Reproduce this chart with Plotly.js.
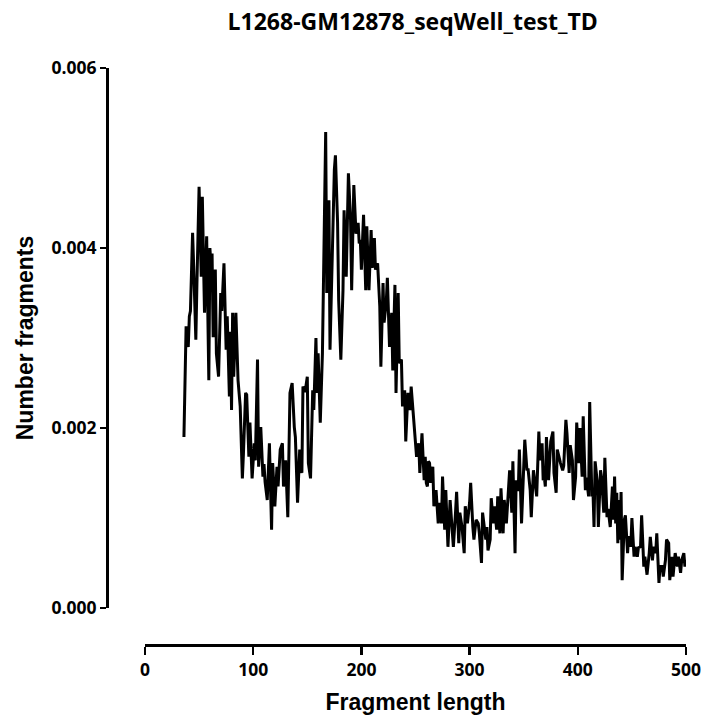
<!DOCTYPE html>
<html>
<head>
<meta charset="utf-8">
<script src="https://cdn.plot.ly/plotly-3.0.1.min.js"></script>
<style>html,body{margin:0;padding:0;background:#fff;}#chart{width:706px;height:718px;}</style>
</head>
<body>
<div id="chart"></div>
<script>
const chartTitle = "L1268-GM12878_seqWell_test_TD";
const xTitle = "Fragment length";
const yTitle = "Number fragments";
const xTicks = [0, 100, 200, 300, 400, 500];
const yTicks = [0.000, 0.002, 0.004, 0.006];

const fragmentLength = [
36,38,40,41,42,44,45,47,48,50,52,53,55,56,57,59,60,61,62,63,65,66,68,70,71,73,75,76,78,79,
80,81,82,84,86,88,90,91,92,93,94,96,97,99,101,102,104,105,107,109,110,111,113,115,117,118,120,122,123,125,
127,128,130,132,134,136,138,139,141,143,145,146,148,150,151,153,155,156,158,159,160,162,164,165,167,168,170,171,173,175,
176,178,179,181,183,184,186,188,190,191,193,195,197,198,199,200,202,204,205,207,209,210,212,213,215,217,218,220,221,223,
224,226,228,229,231,232,234,235,237,238,240,241,243,245,246,248,250,251,253,254,256,257,258,259,260,261,262,263,264,266,
267,269,271,272,274,275,277,278,280,282,283,285,287,288,290,291,293,295,296,298,300,301,303,304,306,308,309,311,312,314,
315,316,317,319,320,322,323,325,326,328,329,331,332,334,336,337,339,340,342,343,345,346,348,350,351,353,354,356,357,359,
360,362,364,365,367,368,369,370,371,373,375,377,378,380,381,383,384,386,387,389,390,392,393,395,396,398,399,401,402,404,
405,407,408,410,411,413,414,415,416,418,419,421,422,424,425,427,428,430,431,432,433,434,435,436,437,438,439,440,441,443,
444,446,447,449,450,452,453,455,456,458,459,461,462,464,466,467,469,470,472,473,475,476,478,479,481,482,484,485,487,488,
490,492,493,495,496,498,499,500
];
const numberFragments = [
0.00190,0.00313,0.00290,0.00324,0.00330,0.00417,0.00380,0.00298,0.00360,0.00468,0.00368,0.00457,0.00328,0.00380,0.00413,0.00253,0.00400,0.00380,0.00394,0.00301,0.00376,0.00283,0.00257,0.00350,0.00330,0.00383,0.00287,0.00324,0.00235,0.00307,
0.00220,0.00328,0.00257,0.00328,0.00253,0.00224,0.00144,0.00172,0.00209,0.00239,0.00237,0.00168,0.00206,0.00144,0.00183,0.00164,0.00276,0.00157,0.00201,0.00146,0.00160,0.00140,0.00120,0.00183,0.00087,0.00161,0.00113,0.00157,0.00135,0.00176,
0.00183,0.00135,0.00164,0.00101,0.00239,0.00250,0.00201,0.00190,0.00117,0.00176,0.00150,0.00246,0.00240,0.00257,0.00161,0.00144,0.00242,0.00220,0.00300,0.00239,0.00283,0.00206,0.00283,0.00361,0.00529,0.00350,0.00453,0.00287,0.00394,0.00487,
0.00503,0.00428,0.00342,0.00276,0.00353,0.00442,0.00368,0.00483,0.00431,0.00353,0.00470,0.00416,0.00428,0.00405,0.00409,0.00376,0.00437,0.00353,0.00424,0.00353,0.00420,0.00378,0.00411,0.00376,0.00383,0.00335,0.00268,0.00361,0.00317,0.00340,
0.00367,0.00290,0.00328,0.00264,0.00359,0.00239,0.00350,0.00272,0.00276,0.00224,0.00242,0.00185,0.00239,0.00220,0.00246,0.00217,0.00183,0.00168,0.00183,0.00150,0.00194,0.00157,0.00142,0.00168,0.00139,0.00135,0.00163,0.00161,0.00139,0.00157,
0.00113,0.00131,0.00094,0.00117,0.00094,0.00146,0.00087,0.00131,0.00068,0.00120,0.00101,0.00068,0.00106,0.00129,0.00072,0.00106,0.00090,0.00061,0.00113,0.00094,0.00117,0.00139,0.00090,0.00076,0.00098,0.00094,0.00083,0.00050,0.00106,0.00085,
0.00076,0.00090,0.00064,0.00076,0.00122,0.00094,0.00113,0.00087,0.00124,0.00083,0.00133,0.00083,0.00120,0.00094,0.00131,0.00153,0.00106,0.00163,0.00061,0.00142,0.00130,0.00176,0.00094,0.00164,0.00187,0.00153,0.00155,0.00131,0.00101,0.00153,
0.00145,0.00124,0.00196,0.00164,0.00183,0.00142,0.00146,0.00135,0.00190,0.00142,0.00185,0.00196,0.00150,0.00128,0.00176,0.00165,0.00161,0.00153,0.00158,0.00209,0.00194,0.00150,0.00181,0.00164,0.00120,0.00146,0.00206,0.00161,0.00200,0.00146,
0.00213,0.00131,0.00145,0.00124,0.00229,0.00124,0.00131,0.00090,0.00163,0.00140,0.00090,0.00153,0.00145,0.00106,0.00167,0.00101,0.00110,0.00090,0.00109,0.00135,0.00098,0.00146,0.00094,0.00128,0.00072,0.00120,0.00076,0.00129,0.00031,0.00098,
0.00103,0.00061,0.00080,0.00068,0.00100,0.00057,0.00068,0.00057,0.00067,0.00068,0.00103,0.00046,0.00057,0.00037,0.00061,0.00079,0.00053,0.00068,0.00061,0.00083,0.00028,0.00046,0.00046,0.00035,0.00053,0.00076,0.00072,0.00031,0.00057,0.00035,
0.00061,0.00046,0.00057,0.00039,0.00053,0.00061,0.00046,0.00053
];

const boldFont = {family: "Liberation Sans, Arial, sans-serif", size: 23, color: "#000", weight: "bold"};
const tickFont = {family: "Open Sans, sans-serif", size: 17.5, color: "#000", weight: "bold"};

const trace = {
  x: fragmentLength,
  y: numberFragments,
  type: "scatter",
  mode: "lines",
  line: {color: "#000", width: 3},
  hoverinfo: "skip"
};

const layout = {
  width: 706,
  height: 718,
  margin: {l: 107, r: 20, t: 68, b: 73, pad: 0},
  paper_bgcolor: "#fff",
  plot_bgcolor: "#fff",
  showlegend: false,
  title: {
    text: chartTitle,
    font: {family: "Open Sans, sans-serif", size: 23, color: "#000", weight: "bold"},
    x: 0.528, xanchor: "center", xref: "paper",
    y: 1 - 22/718, yanchor: "middle", yref: "container"
  },
  xaxis: {
    range: [0, 500],
    domain: [0.0656, 1],
    anchor: "free",
    position: 0,
    tickvals: xTicks,
    ticktext: xTicks.map(String),
    ticks: "outside",
    ticklen: 8,
    tickwidth: 2.5,
    tickcolor: "#000",
    showline: true,
    linecolor: "#000",
    linewidth: 2.5,
    showgrid: false,
    zeroline: false,
    tickfont: tickFont,
    title: {text: xTitle, font: boldFont, standoff: 14}
  },
  yaxis: {
    range: [0, 0.006],
    domain: [0.0641, 1],
    anchor: "free",
    position: 0,
    tickvals: yTicks,
    ticktext: yTicks.map(v => v.toFixed(3)),
    ticks: "outside",
    ticklen: 6,
    tickwidth: 2.5,
    tickcolor: "#000",
    showline: true,
    linecolor: "#000",
    linewidth: 2.5,
    showgrid: false,
    zeroline: false,
    tickfont: tickFont,
    title: {text: yTitle, font: boldFont, standoff: 10}
  }
};

Plotly.newPlot("chart", [trace], layout, {displayModeBar: false, staticPlot: true});
</script>
</body>
</html>
